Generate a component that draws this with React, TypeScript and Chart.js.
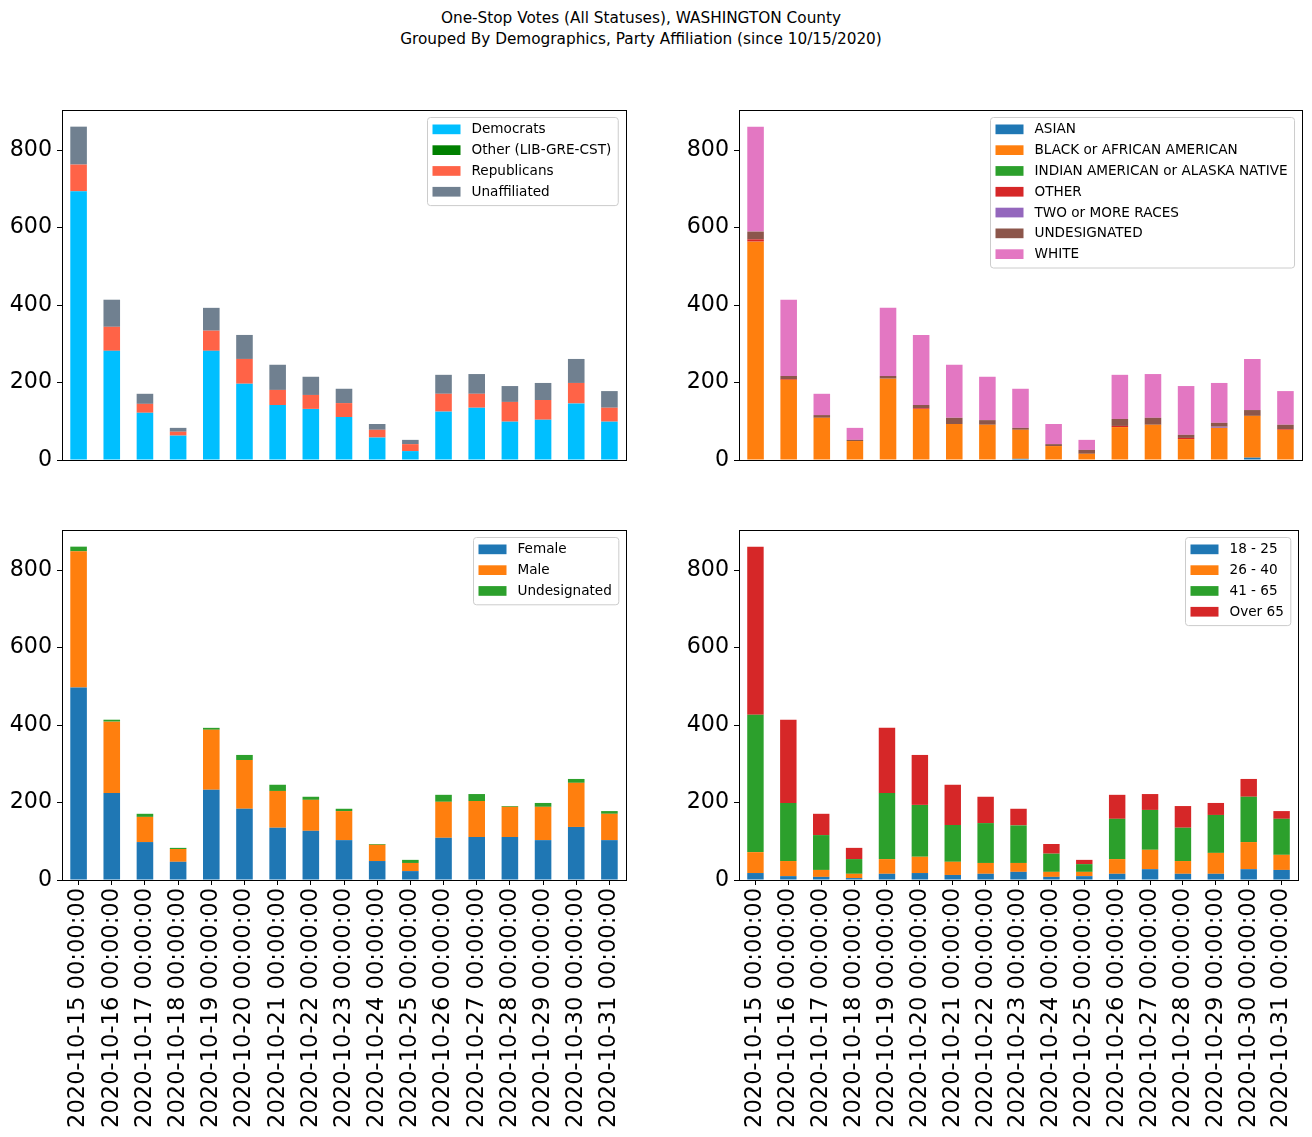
import React, { useEffect, useRef } from "react";
import { Chart, registerables } from "chart.js";

Chart.register(...registerables);

const dates = [
  "2020-10-15 00:00:00", "2020-10-16 00:00:00", "2020-10-17 00:00:00", "2020-10-18 00:00:00",
  "2020-10-19 00:00:00", "2020-10-20 00:00:00", "2020-10-21 00:00:00", "2020-10-22 00:00:00",
  "2020-10-23 00:00:00", "2020-10-24 00:00:00", "2020-10-25 00:00:00", "2020-10-26 00:00:00",
  "2020-10-27 00:00:00", "2020-10-28 00:00:00", "2020-10-29 00:00:00", "2020-10-30 00:00:00",
  "2020-10-31 00:00:00",
];

// Party affiliation
const democrats = [694, 282, 122, 63, 282, 197, 142, 132, 111, 58, 23, 125, 135, 99, 104, 146, 99];
const otherParty = [0, 0, 0, 0, 0, 0, 0, 0, 0, 0, 0, 0, 0, 0, 0, 0, 0];
const republicans = [69, 62, 23, 10, 52, 64, 39, 36, 36, 20, 18, 46, 36, 51, 51, 53, 36];
const unaffiliated = [98, 70, 26, 10, 59, 62, 65, 47, 37, 15, 11, 49, 51, 41, 44, 62, 43];

// Race
const asian = [0, 0, 0, 0, 0, 0, 0, 0, 3, 0, 0, 0, 0, 0, 0, 6, 0];
const black = [564, 207, 109, 49, 210, 132, 93, 91, 75, 36, 16, 85, 91, 54, 83, 108, 78];
const indianAm = [0, 0, 0, 0, 0, 0, 0, 0, 0, 0, 0, 0, 0, 0, 0, 0, 0];
const otherRace = [6, 2, 0, 0, 0, 2, 0, 0, 0, 0, 0, 3, 0, 3, 0, 0, 2];
const twoOrMore = [0, 0, 0, 0, 0, 0, 0, 0, 0, 0, 0, 0, 0, 0, 3, 0, 0];
const undesRace = [20, 8, 7, 3, 7, 8, 16, 12, 5, 5, 10, 18, 18, 8, 10, 15, 11];
const white = [271, 197, 55, 31, 176, 181, 137, 112, 101, 52, 26, 114, 113, 126, 103, 132, 87];

// Gender
const female = [497, 225, 98, 47, 233, 184, 135, 127, 103, 49, 23, 109, 111, 111, 103, 137, 103];
const male = [352, 184, 65, 33, 155, 126, 95, 80, 75, 42, 21, 93, 93, 78, 86, 114, 68];
const undesGender = [12, 5, 8, 3, 5, 13, 16, 8, 6, 2, 8, 18, 18, 2, 10, 10, 7];

// Age
const age18to25 = [18, 10, 8, 5, 16, 18, 13, 16, 21, 8, 10, 16, 28, 16, 16, 28, 26];
const age26to40 = [54, 39, 18, 11, 38, 42, 34, 28, 23, 13, 11, 38, 50, 33, 54, 70, 39];
const age41to65 = [355, 150, 90, 38, 171, 134, 95, 103, 97, 47, 20, 104, 103, 86, 98, 117, 93];
const ageOver65 = [434, 215, 55, 29, 168, 129, 104, 68, 43, 25, 11, 62, 41, 56, 31, 46, 20];

const yTicks = [0, 200, 400, 600, 800];
const yMax = 904;

const FONT = '"DejaVu Sans", sans-serif';

type Series = { label: string; data: number[]; color: string };

const panels: {
  key: string;
  left: number;
  top: number;
  width: number;
  height: number;
  yWidth: number;
  padRight: number;
  padTop: number;
  padBottom: number;
  showX: boolean;
  xHeight: number;
  series: Series[];
}[] = [
  {
    key: "party", left: 0, top: 60, width: 656, height: 440, yWidth: 62, padRight: 30, padTop: 50, padBottom: 40,
    showX: false, xHeight: 0,
    series: [
      { label: "Democrats", data: democrats, color: "#00BFFF" },
      { label: "Other (LIB-GRE-CST)", data: otherParty, color: "#008000" },
      { label: "Republicans", data: republicans, color: "#FF6347" },
      { label: "Unaffiliated", data: unaffiliated, color: "#708090" },
    ],
  },
  {
    key: "race", left: 656, top: 60, width: 656, height: 440, yWidth: 83, padRight: 10, padTop: 50, padBottom: 40,
    showX: false, xHeight: 0,
    series: [
      { label: "ASIAN", data: asian, color: "#1f77b4" },
      { label: "BLACK or AFRICAN AMERICAN", data: black, color: "#ff7f0e" },
      { label: "INDIAN AMERICAN or ALASKA NATIVE", data: indianAm, color: "#2ca02c" },
      { label: "OTHER", data: otherRace, color: "#d62728" },
      { label: "TWO or MORE RACES", data: twoOrMore, color: "#9467bd" },
      { label: "UNDESIGNATED", data: undesRace, color: "#8c564b" },
      { label: "WHITE", data: white, color: "#e377c2" },
    ],
  },
  {
    key: "gender", left: 0, top: 480, width: 656, height: 657, yWidth: 62, padRight: 30, padTop: 50, padBottom: 0,
    showX: true, xHeight: 257,
    series: [
      { label: "Female", data: female, color: "#1f77b4" },
      { label: "Male", data: male, color: "#ff7f0e" },
      { label: "Undesignated", data: undesGender, color: "#2ca02c" },
    ],
  },
  {
    key: "age", left: 656, top: 480, width: 656, height: 657, yWidth: 83, padRight: 10, padTop: 50, padBottom: 0,
    showX: true, xHeight: 257,
    series: [
      { label: "18 - 25", data: age18to25, color: "#1f77b4" },
      { label: "26 - 40", data: age26to40, color: "#ff7f0e" },
      { label: "41 - 65", data: age41to65, color: "#2ca02c" },
      { label: "Over 65", data: ageOver65, color: "#d62728" },
    ],
  },
];

const framePlugin = {
  id: "mplFrame",
  afterDraw(chart: any) {
    const ctx = chart.ctx;
    const a = chart.chartArea;
    ctx.save();
    ctx.strokeStyle = "#000";
    ctx.lineWidth = 1;
    const l = Math.round(a.left) + 0.5;
    const t = Math.round(a.top) + 0.5;
    const r = Math.round(a.right) + 0.5;
    const b = Math.round(a.bottom) + 0.5;
    ctx.strokeRect(l, t, r - l, b - t);

    // legend
    const ds = chart.data.datasets;
    ctx.font = `13.6px ${FONT}`;
    let tw = 0;
    ds.forEach((d: any) => { tw = Math.max(tw, ctx.measureText(d.label).width); });
    const hw = 28, hh = 9.7, padL = 5, gap = 11, padR = 7, row = 20.8;
    const w = padL + hw + gap + tw + padR;
    const h = 7 + (ds.length - 1) * row + hh + 9;
    const x = Math.round(a.right - 8 - w) + 0.5;
    const y = Math.round(a.top + 7) + 0.5;
    const rad = 3;
    ctx.beginPath();
    ctx.moveTo(x + rad, y);
    ctx.lineTo(x + w - rad, y);
    ctx.arcTo(x + w, y, x + w, y + rad, rad);
    ctx.lineTo(x + w, y + h - rad);
    ctx.arcTo(x + w, y + h, x + w - rad, y + h, rad);
    ctx.lineTo(x + rad, y + h);
    ctx.arcTo(x, y + h, x, y + h - rad, rad);
    ctx.lineTo(x, y + rad);
    ctx.arcTo(x, y, x + rad, y, rad);
    ctx.closePath();
    ctx.fillStyle = "rgba(255,255,255,0.8)";
    ctx.fill();
    ctx.strokeStyle = "#cccccc";
    ctx.stroke();
    ctx.textBaseline = "middle";
    ctx.textAlign = "left";
    ds.forEach((d: any, i: number) => {
      const hy = y + 7 + i * row;
      ctx.fillStyle = d.backgroundColor;
      ctx.fillRect(x + padL, hy, hw, hh);
      ctx.fillStyle = "#000";
      ctx.fillText(d.label, x + padL + hw + gap, hy + hh / 2 + 0.5);
    });
    ctx.restore();
  },
};

function Panel({ cfg }: { cfg: (typeof panels)[number] }) {
  const ref = useRef<HTMLCanvasElement | null>(null);
  useEffect(() => {
    if (!ref.current) return;
    const chart = new Chart(ref.current, {
      type: "bar",
      data: {
        labels: dates,
        datasets: cfg.series.map((s) => ({
          label: s.label,
          data: s.data,
          backgroundColor: s.color,
          borderWidth: 0,
          barPercentage: 0.5,
          categoryPercentage: 1.0,
        })),
      },
      options: {
        responsive: false,
        animation: false,
        devicePixelRatio: 1,
        layout: { padding: { left: 0, right: cfg.padRight, top: cfg.padTop, bottom: cfg.padBottom } },
        plugins: { legend: { display: false }, tooltip: { enabled: false }, title: { display: false } },
        scales: {
          x: {
            stacked: true,
            display: cfg.showX,
            offset: true,
            border: { display: false },
            grid: {
              display: true,
              drawOnChartArea: false,
              drawTicks: true,
              tickLength: 5,
              color: "#000",
              lineWidth: 1,
              offset: false,
            },
            ticks: {
              autoSkip: false,
              minRotation: 90,
              maxRotation: 90,
              padding: 3,
              color: "#000",
              font: { family: FONT, size: 22.6 },
            },
            afterFit: (s: any) => { s.height = cfg.xHeight; },
          },
          y: {
            stacked: true,
            min: 0,
            max: yMax,
            border: { display: false },
            grid: {
              display: true,
              drawOnChartArea: false,
              drawTicks: true,
              tickLength: 5,
              color: "#000",
              lineWidth: 1,
            },
            ticks: {
              includeBounds: false,
              padding: 5,
              color: "#000",
              font: { family: FONT, size: 22.2 },
            },
            afterBuildTicks: (s: any) => { s.ticks = yTicks.map((v) => ({ value: v })); },
            afterFit: (s: any) => { s.width = cfg.yWidth; },
          },
        },
      } as any,
      plugins: [framePlugin],
    });
    return () => chart.destroy();
  }, [cfg]);
  return (
    <canvas
      ref={ref}
      width={cfg.width}
      height={cfg.height}
      style={{ position: "absolute", left: cfg.left, top: cfg.top, width: cfg.width, height: cfg.height }}
    />
  );
}

export default function App() {
  return (
    <div style={{ position: "absolute", left: 0, top: 0, width: 1312, height: 1137, background: "#fff", overflow: "hidden" }}>
      <div
        style={{
          position: "absolute",
          left: 0,
          top: 8,
          width: 1282,
          textAlign: "center",
          fontFamily: FONT,
          fontSize: 15.3,
          lineHeight: "21px",
          color: "#000",
        }}
      >
        One-Stop Votes (All Statuses), WASHINGTON County
        <br />
        Grouped By Demographics, Party Affiliation (since 10/15/2020)
      </div>
      {panels.map((p) => (
        <Panel key={p.key} cfg={p} />
      ))}
    </div>
  );
}
